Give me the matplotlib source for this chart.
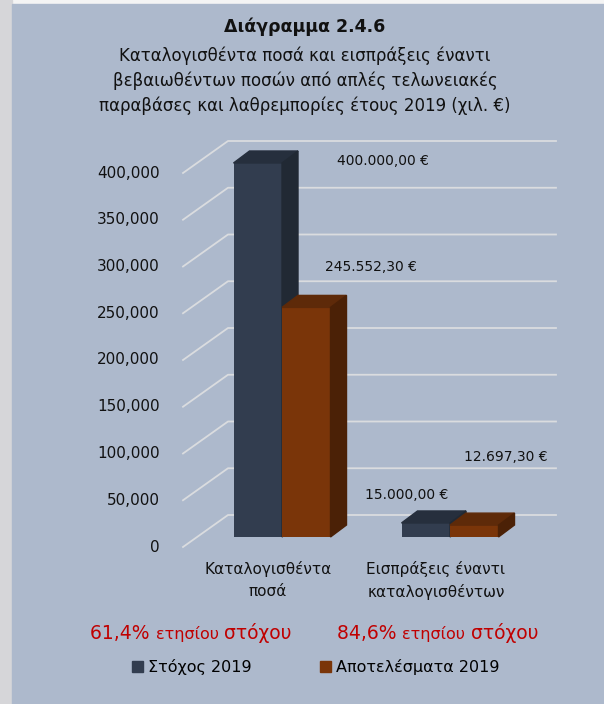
import matplotlib.pyplot as plt
from matplotlib.patches import Polygon, Rectangle, Patch

# chart data (thousand euro)
categories = ["Καταλογισθέντα\nποσά", "Εισπράξεις έναντι\nκαταλογισθέντων"]
series_names = ["Στόχος 2019", "Αποτελέσματα 2019"]
target_2019 = [400000.00, 15000.00]
result_2019 = [245552.30, 12697.30]
value_labels = [["400.000,00 €", "15.000,00 €"], ["245.552,30 €", "12.697,30 €"]]
y_ticks = [0, 50000, 100000, 150000, 200000, 250000, 300000, 350000, 400000]
y_tick_labels = ["0", "50,000", "100,000", "150,000", "200,000",
                 "250,000", "300,000", "350,000", "400,000"]
pct_of_target = ["61,4%", "84,6%"]

# look
PANEL = "#adb9cc"
GRID = "#dadcdf"
RED = "#c00000"
face_colors = {
    "front": ["#323d4f", "#7a3509"],
    "top": ["#262f3d", "#5e2a09"],
    "side": ["#212934", "#4b2106"],
}
# label offsets in pixels from the top centre of each bar
label_offsets = [[(125, 2), (-19, 28)], [(65, 40), (32, 68)]]

W, H = 604, 704
fig = plt.figure(figsize=(W / 100, H / 100), dpi=100)
fig.patch.set_facecolor("#f4f4f4")
fig.patches.append(Rectangle((0, 0), 12 / W, 1, transform=fig.transFigure,
                             color="#d6d6d9", zorder=-2))
fig.patches.append(Rectangle((12 / W, 0), 1 - 12 / W, 1 - 4 / H,
                             transform=fig.transFigure, color=PANEL, zorder=-2))

ax = fig.add_axes([183 / W, 1 - 537 / H, (556 - 183) / W, 374 / H])
ax.set_xlim(-99 / 168, 274 / 168)
ax.set_ylim(0, 400000)
ax.axis("off")

# pixel -> data size of the pseudo 3d depth
p0 = ax.transData.transform((0, 0))
p1 = ax.transData.transform((1, 100000))
sx = p1[0] - p0[0]
sy = (p1[1] - p0[1]) / 100000


def px(dx, dy):
    return dx / sx, dy / sy


front_dx, front_dy = px(-14, -10)
back_dx, back_dy = px(31, 22)
depth_dx, depth_dy = px(16, 12)
x0, x1 = ax.get_xlim()

# floor / back wall grid
for v, lab in zip(y_ticks, y_tick_labels):
    ax.plot([x0, x0 + (back_dx - front_dx), x1],
            [v + front_dy, v + back_dy, v + back_dy],
            color=GRID, lw=1.3, zorder=1, clip_on=False)
    ax.text(x0 - 23 / sx, v + front_dy, lab, ha="right", va="center",
            fontsize=11, color="#111111")

# bars with top and side faces
bar_w = 48.5 / 168
for gi in range(len(categories)):
    for si, vals in enumerate([target_2019, result_2019]):
        v = vals[gi]
        xl = gi - bar_w + si * bar_w
        ax.bar(xl, v, width=bar_w, align="edge",
               color=face_colors["front"][si], zorder=2)
        top = [(xl, v), (xl + bar_w, v),
               (xl + bar_w + depth_dx, v + depth_dy), (xl + depth_dx, v + depth_dy)]
        side = [(xl + bar_w, 0), (xl + bar_w, v),
                (xl + bar_w + depth_dx, v + depth_dy), (xl + bar_w + depth_dx, depth_dy)]
        ax.add_patch(Polygon(top, closed=True, color=face_colors["top"][si],
                             zorder=2, clip_on=False))
        ax.add_patch(Polygon(side, closed=True, color=face_colors["side"][si],
                             zorder=2, clip_on=False))
        ox, oy = label_offsets[si][gi]
        ax.annotate(value_labels[si][gi], xy=(xl + bar_w / 2, v),
                    xytext=(ox, oy), textcoords="offset pixels",
                    ha="center", va="center", fontsize=10, color="#111111",
                    annotation_clip=False)

# category labels on the front edge
for gi, cat in enumerate(categories):
    ax.text(gi + front_dx, front_dy - 14 / sy, cat, ha="center", va="top",
            fontsize=11, linespacing=1.55, color="#111111")

# titles
fig.text(305 / W, 1 - 27 / H, "Διάγραμμα 2.4.6", ha="center", va="center",
         fontsize=12.5, fontweight="bold", color="#111111")
fig.text(305 / W, 1 - 81 / H,
         "Καταλογισθέντα ποσά και εισπράξεις έναντι\n"
         "βεβαιωθέντων ποσών από απλές τελωνειακές\n"
         "παραβάσες και λαθρεμπορίες έτους 2019 (χιλ. €)",
         ha="center", va="center", fontsize=12, linespacing=1.45,
         color="#111111")

# share of annual target
for start_px, pct in zip([90, 337], pct_of_target):
    t1 = fig.text(start_px / W, 1 - 639 / H, pct + " ", ha="left",
                  va="baseline", fontsize=13.5, color=RED)
    t2 = ax.annotate("ετησίου ", xy=(1, 1 - 639 / H),
                     xycoords=(t1, "figure fraction"),
                     ha="left", va="baseline", fontsize=11.5, color=RED,
                     annotation_clip=False)
    ax.annotate("στόχου", xy=(1, 1 - 639 / H),
                xycoords=(t2, "figure fraction"),
                ha="left", va="baseline", fontsize=13.5, color=RED,
                annotation_clip=False)

handles = [Patch(color=face_colors["front"][0]), Patch(color=face_colors["front"][1])]
fig.legend(handles, series_names, loc="center",
           bbox_to_anchor=(316 / W, 1 - 667 / H), ncol=2, frameon=False,
           fontsize=11.5, handlelength=0.65, handleheight=0.65,
           handletextpad=0.35, columnspacing=4.3)

fig.savefig("out.png", dpi=100, facecolor=fig.get_facecolor())
